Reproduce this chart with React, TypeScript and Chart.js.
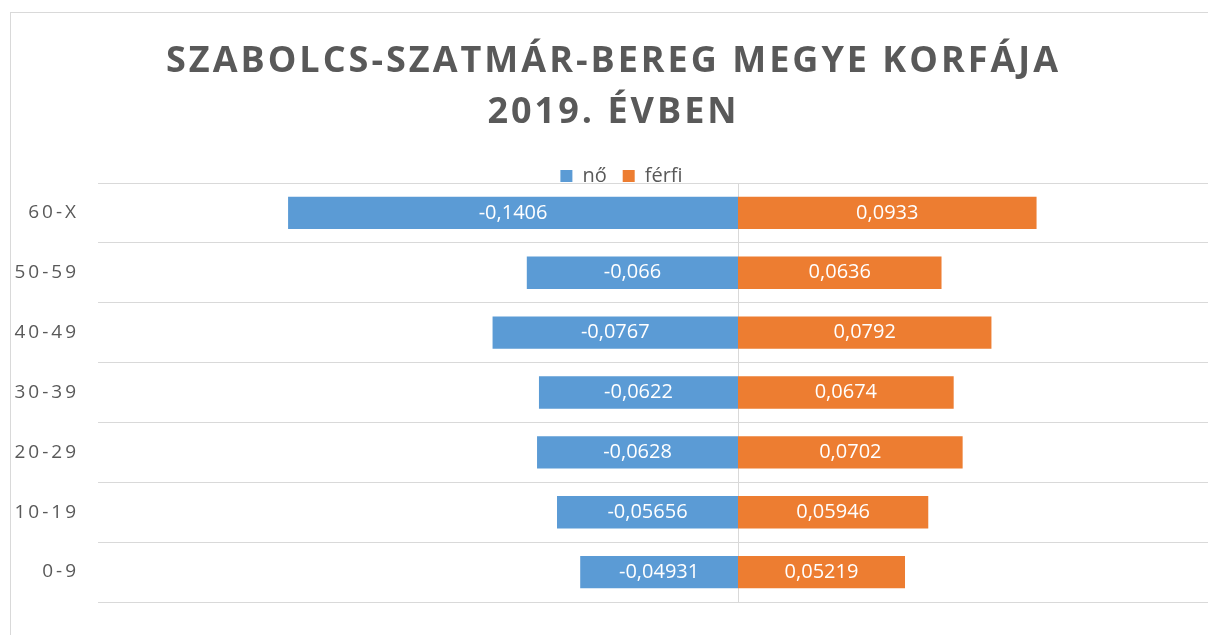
import React, { useEffect, useRef } from 'react';
import { Chart, registerables } from 'chart.js';

Chart.register(...registerables);

const TITLE_LINES = ['SZABOLCS-SZATMÁR-BEREG MEGYE KORFÁJA', '2019. ÉVBEN'];
const AGE_GROUPS = ['60-X', '50-59', '40-49', '30-39', '20-29', '10-19', '0-9'];
const FEMALE = [-0.1406, -0.066, -0.0767, -0.0622, -0.0628, -0.05656, -0.04931];
const MALE = [0.0933, 0.0636, 0.0792, 0.0674, 0.0702, 0.05946, 0.05219];
const SERIES_NAMES = ['nő', 'férfi'];
const X_MIN = -0.2;
const X_MAX = 0.15;
const X_STEP = 0.05;

const TEXT_GRAY = '#595959';
const GRID_GRAY = '#d9d9d9';
const BLUE = '#5B9BD5';
const ORANGE = '#ED7D31';
const FONT = '"Open Sans", "Noto Sans", sans-serif';

const CANVAS_W = 1207;
const CANVAS_H = 640;
const LEGEND_H = 33;

const formatValue = (v: number) => String(v).replace('.', ',');

const titlePlugin = {
  id: 'spacedTitle',
  afterDraw(chart: any) {
    const ctx = chart.ctx as CanvasRenderingContext2D;
    const spacing = 3;
    const baselines = [59, 110];
    const cx = chart.width / 2 - 2.5;
    ctx.save();
    ctx.font = `bold 36px ${FONT}`;
    ctx.fillStyle = TEXT_GRAY;
    (ctx as any).letterSpacing = `${spacing}px`;
    ctx.textAlign = 'left';
    ctx.textBaseline = 'alphabetic';
    TITLE_LINES.forEach((line, i) => {
      const w = ctx.measureText(line).width - spacing;
      ctx.fillText(line, cx - w / 2, baselines[i]);
    });
    (ctx as any).letterSpacing = '0px';
    ctx.restore();
  },
};

const yLabelPlugin = {
  id: 'spacedYLabels',
  afterDraw(chart: any) {
    const ctx = chart.ctx as CanvasRenderingContext2D;
    const yScale = chart.scales.y;
    const spacing = 3;
    const right = chart.chartArea.left - 22;
    ctx.save();
    ctx.font = `19px ${FONT}`;
    ctx.fillStyle = TEXT_GRAY;
    (ctx as any).letterSpacing = `${spacing}px`;
    ctx.textAlign = 'right';
    ctx.textBaseline = 'middle';
    AGE_GROUPS.forEach((label, i) => {
      ctx.fillText(label, right + spacing, yScale.getPixelForValue(i));
    });
    (ctx as any).letterSpacing = '0px';
    ctx.restore();
  },
};

const dataLabelPlugin = {
  id: 'barValueLabels',
  afterDatasetsDraw(chart: any) {
    const ctx = chart.ctx as CanvasRenderingContext2D;
    ctx.save();
    ctx.font = `20px ${FONT}`;
    ctx.fillStyle = '#ffffff';
    ctx.textAlign = 'center';
    ctx.textBaseline = 'middle';
    chart.data.datasets.forEach((ds: any, di: number) => {
      const meta = chart.getDatasetMeta(di);
      meta.data.forEach((el: any, i: number) => {
        const { x, y, base } = el.getProps(['x', 'y', 'base'], true);
        ctx.fillText(formatValue(ds.data[i]), (x + base) / 2, y);
      });
    });
    ctx.restore();
  },
};

const legendHeightPlugin = {
  id: 'legendHeight',
  beforeLayout(chart: any) {
    const lg = chart.legend;
    if (lg && !lg._heightPatched) {
      const orig = lg.fit;
      lg.fit = function () {
        orig.call(this);
        if (this.options.display) this.height = LEGEND_H;
      };
      lg._heightPatched = true;
    }
  },
};

export default function App() {
  const canvasRef = useRef<HTMLCanvasElement | null>(null);

  useEffect(() => {
    document.documentElement.style.overflow = 'hidden';
    const canvas = canvasRef.current;
    if (!canvas) return;
    const chart = new Chart(canvas, {
      type: 'bar',
      data: {
        labels: AGE_GROUPS,
        datasets: [
          {
            label: SERIES_NAMES[0],
            data: FEMALE,
            backgroundColor: BLUE,
            borderWidth: 0,
            categoryPercentage: 1,
            barPercentage: 0.54,
          },
          {
            label: SERIES_NAMES[1],
            data: MALE,
            backgroundColor: ORANGE,
            borderWidth: 0,
            categoryPercentage: 1,
            barPercentage: 0.54,
          },
        ],
      },
      options: {
        indexAxis: 'y',
        responsive: false,
        animation: false,
        devicePixelRatio: 1,
        layout: { padding: { top: 137, bottom: 51, left: 14, right: 0 } },
        plugins: {
          title: { display: false },
          tooltip: { enabled: false },
          legend: {
            display: true,
            position: 'top',
            labels: {
              boxWidth: 12,
              boxHeight: 12,
              padding: 16,
              color: TEXT_GRAY,
              font: { family: FONT, size: 20 },
            },
          },
        },
        scales: {
          x: {
            stacked: true,
            min: X_MIN,
            max: X_MAX,
            z: 1,
            ticks: { display: false, stepSize: X_STEP },
            border: { display: false },
            grid: {
              drawTicks: false,
              lineWidth: 1,
              color: (c: any) => (c.tick && Math.abs(c.tick.value) < 1e-9 ? GRID_GRAY : 'rgba(0,0,0,0)'),
            },
          },
          y: {
            stacked: true,
            ticks: { display: false },
            border: { display: false },
            grid: { drawTicks: false, color: GRID_GRAY, lineWidth: 1, offset: true },
            afterFit: (scale: any) => {
              scale.width = 73;
            },
          },
        },
      },
      plugins: [legendHeightPlugin, titlePlugin, yLabelPlugin, dataLabelPlugin],
    });
    return () => chart.destroy();
  }, []);

  return (
    <div
      style={{
        position: 'absolute',
        left: 10,
        top: 12,
        width: CANVAS_W,
        height: CANVAS_H,
        border: `1px solid ${GRID_GRAY}`,
        background: '#fff',
      }}
    >
      <canvas ref={canvasRef} width={CANVAS_W} height={CANVAS_H} style={{ display: 'block' }} />
    </div>
  );
}
